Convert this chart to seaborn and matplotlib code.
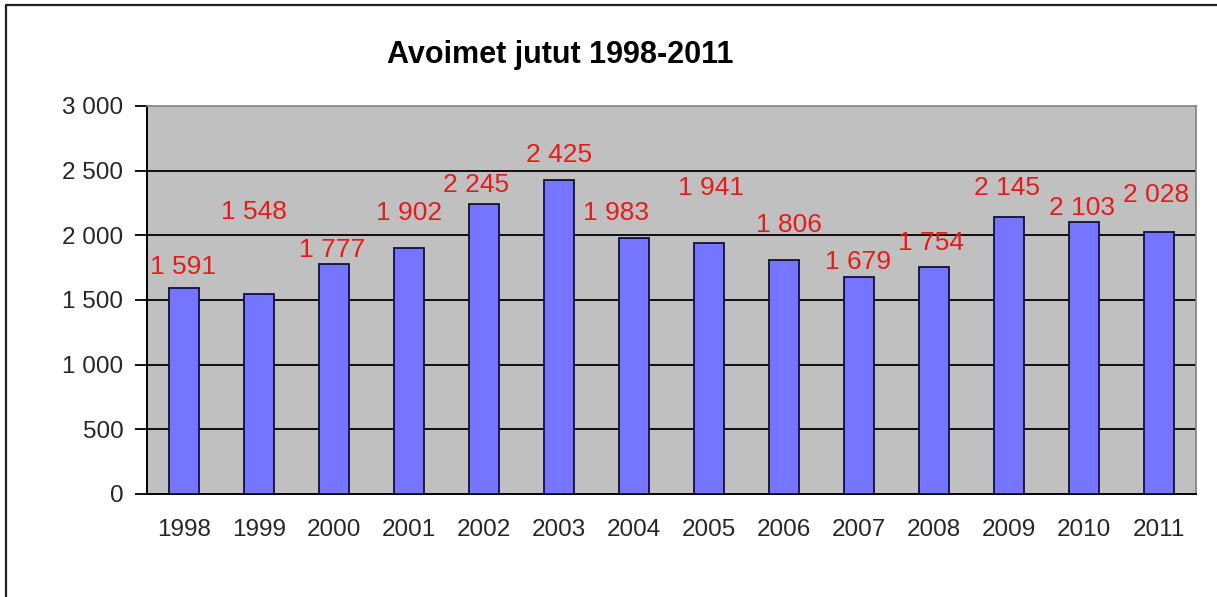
import matplotlib
matplotlib.use("Agg")
import matplotlib.pyplot as plt
import seaborn as sns
from matplotlib.lines import Line2D

# ---- data ----
years = ["1998", "1999", "2000", "2001", "2002", "2003", "2004",
         "2005", "2006", "2007", "2008", "2009", "2010", "2011"]
values = [1591, 1548, 1777, 1902, 2245, 2425, 1983,
          1941, 1806, 1679, 1754, 2145, 2103, 2028]
yticks = [0, 500, 1000, 1500, 2000, 2500, 3000]
title = "Avoimet jutut 1998-2011"

# label placement offsets (pixels) relative to bar top centre, as in the original
label_dx = [-1, -5, -2, 0, -8, 0, -18, 2, 5, -1, -3, -2, -2, -2]
label_dy = [21, 82, 14, 35, 19, 25, 25, 55, 35, 15, 24, 29, 14, 37]


def fmt(v):
    return f"{v:,}".replace(",", " ")


sns.set_theme(style="white")
plt.rcParams['font.family'] = ['Liberation Sans', 'DejaVu Sans']

W, H = 1217, 597
fig = plt.figure(figsize=(W / 100, H / 100), dpi=100)
ax = fig.add_axes([147 / W, (H - 494) / H, 1049 / W, 388 / H])
ax.set_facecolor("#C0C0C0")

sns.barplot(x=years, y=values, color="#7575FF", saturation=1, width=0.4,
            edgecolor="#10103A", linewidth=1.3, ax=ax, zorder=3)

ax.set_xlim(-0.5, len(years) - 0.5)
ax.set_ylim(0, 3000)
ax.set_yticks(yticks)
ax.set_yticklabels([fmt(t) for t in yticks], fontsize=17.5)
for t in yticks[1:-1]:
    ax.axhline(t, color="black", lw=1.3, zorder=2)

ax.set_xticks(range(len(years)))
ax.set_xticklabels(years, fontsize=17.5)
ax.set_xticks([i - 0.5 for i in range(len(years) + 1)], minor=True)
ax.tick_params(axis="x", which="major", length=0, pad=18)
ax.tick_params(axis="x", which="minor", length=7, width=1.3, color="black", direction="out")
ax.tick_params(axis="y", which="major", length=9, width=1.3, color="black", direction="out", pad=8)
ax.tick_params(left=True, bottom=True)
ax.set_xlabel("")
ax.set_ylabel("")

for side in ["left", "bottom"]:
    ax.spines[side].set_color("black")
    ax.spines[side].set_linewidth(1.4)
for side in ["top", "right"]:
    ax.spines[side].set_color("#808080")
    ax.spines[side].set_linewidth(1.2)

for i, v in enumerate(values):
    ax.annotate(fmt(v), xy=(i, v), xytext=(label_dx[i], label_dy[i]),
                textcoords="offset pixels", ha="center", va="center",
                color="#E41C1C", fontsize=19, zorder=5, annotation_clip=False)

fig.text(560 / W, 1 - 55 / H, title, ha="center", va="center",
         fontsize=22, fontweight="bold", color="black")

# outer frame of the original chart area
fig.add_artist(Line2D([6 / W, 6 / W], [0, 1 - 5 / H], transform=fig.transFigure,
                      color="#222222", lw=1.6))
fig.add_artist(Line2D([6 / W, 1], [1 - 5 / H, 1 - 5 / H], transform=fig.transFigure,
                      color="#222222", lw=1.6))

fig.savefig("out.png", dpi=100)
